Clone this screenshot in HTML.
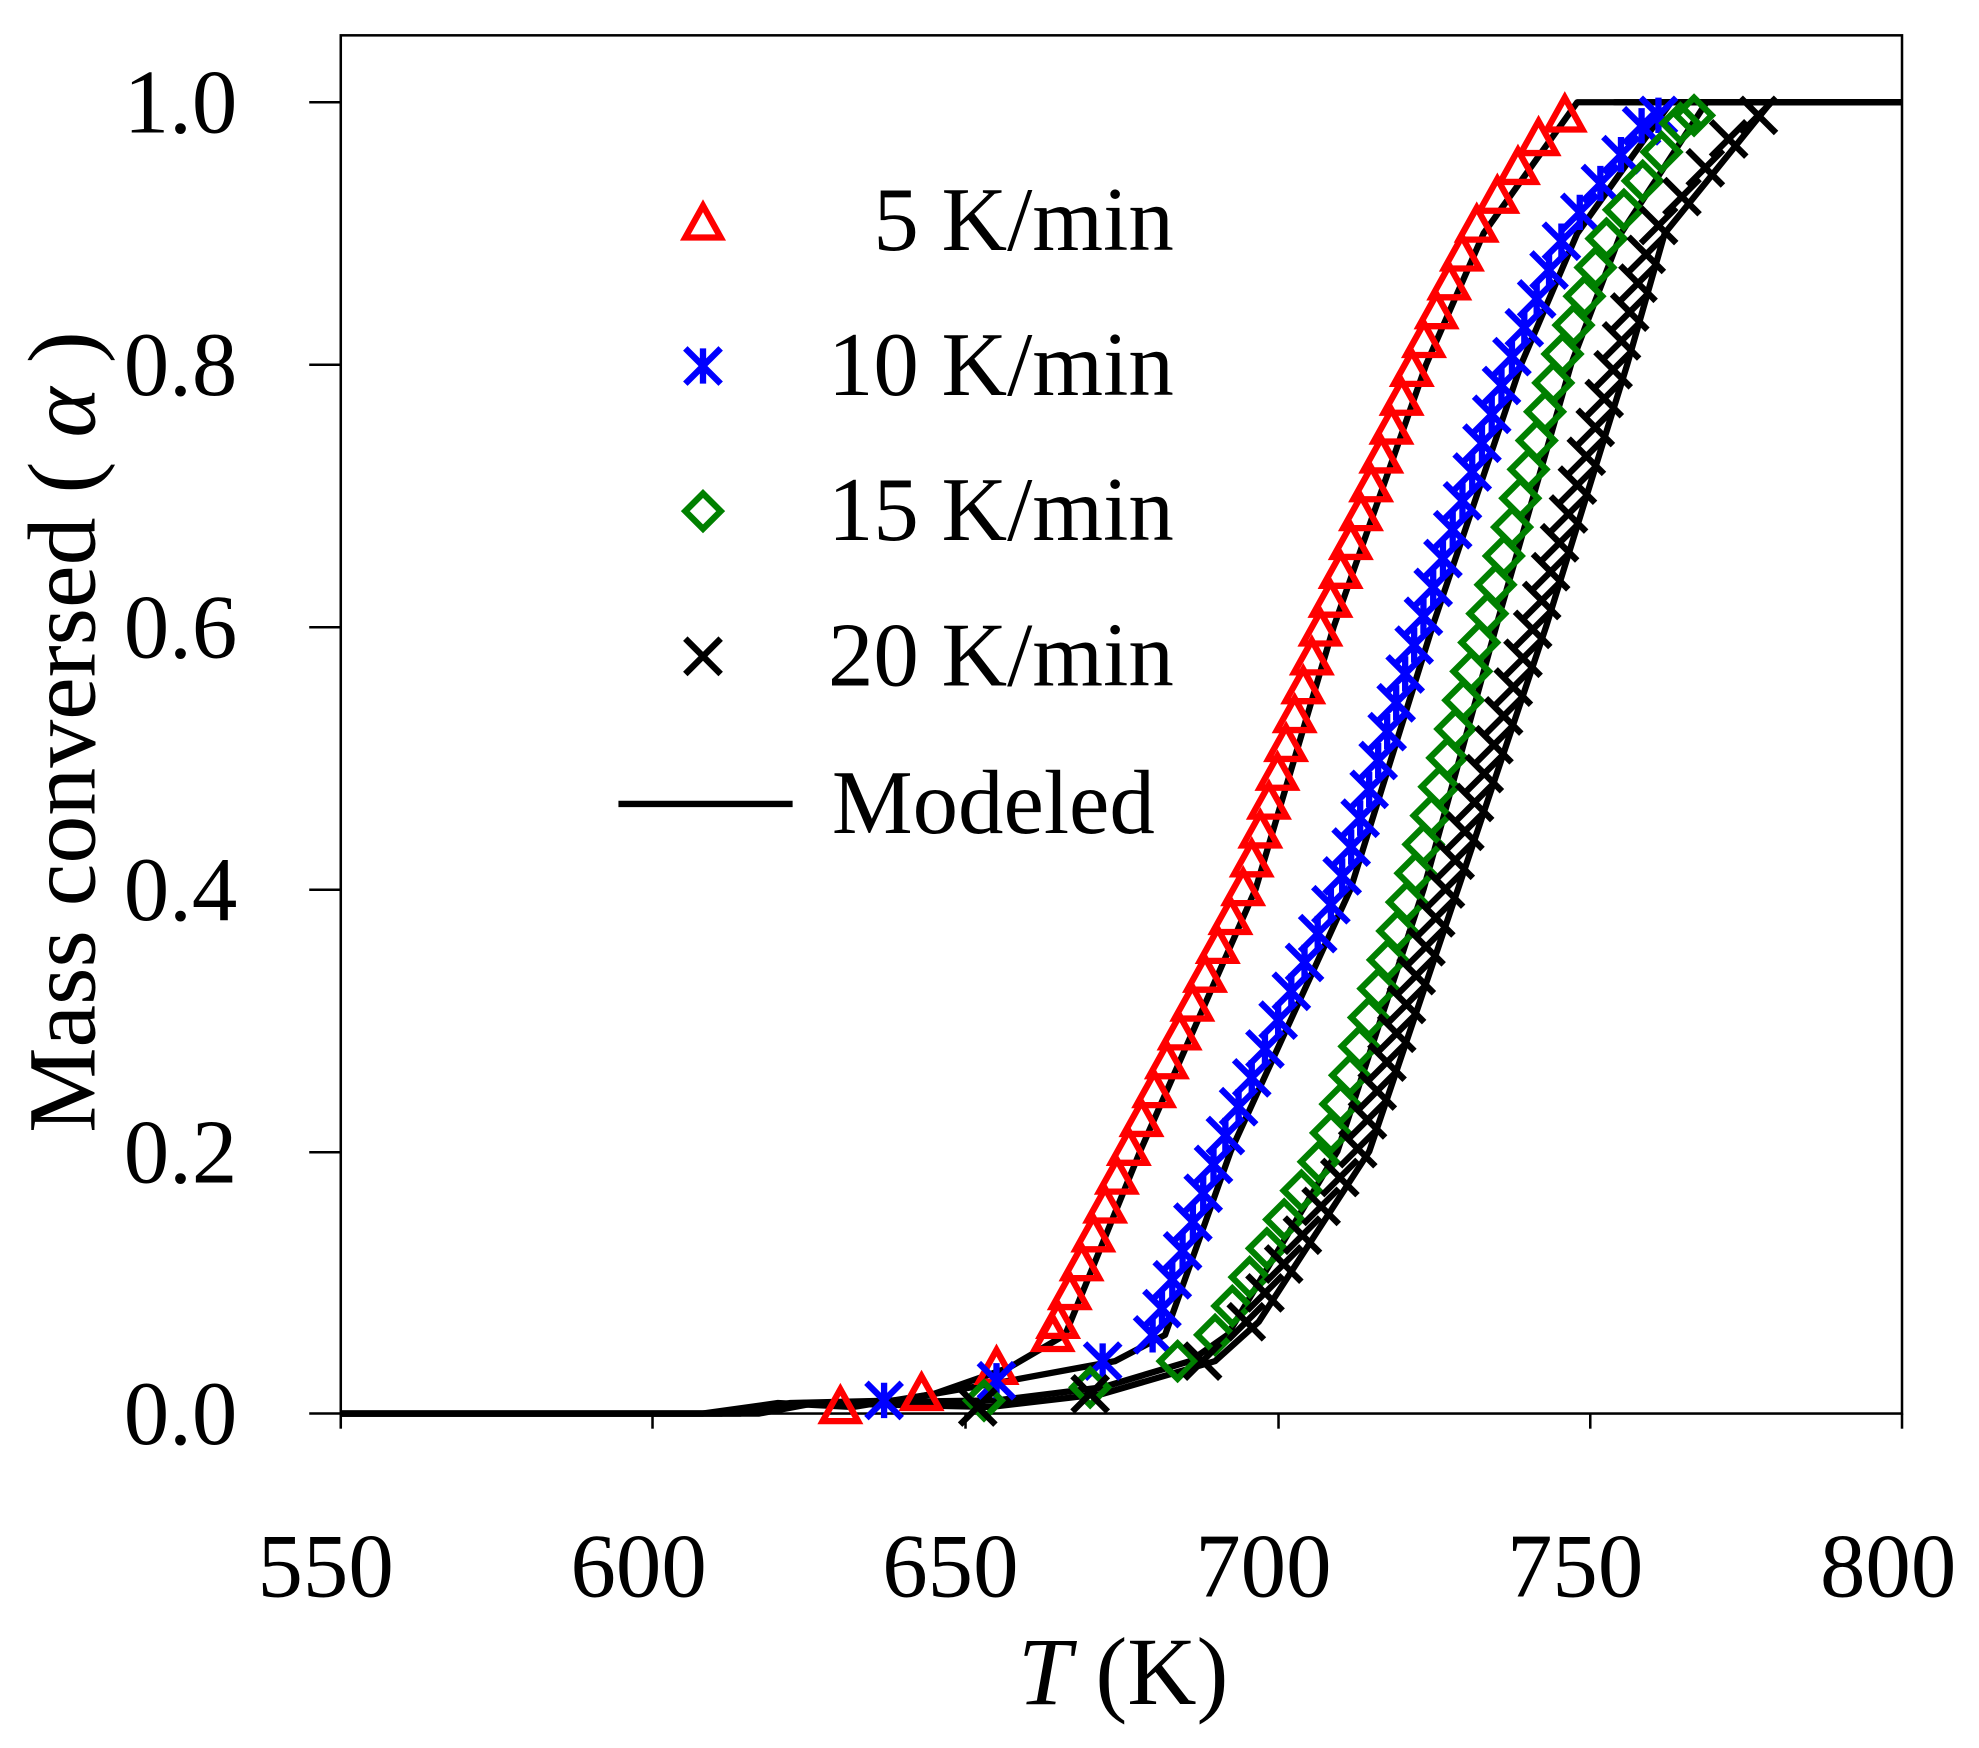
<!DOCTYPE html>
<html><head><meta charset="utf-8"><style>
html,body{margin:0;padding:0;background:#fff}
svg{display:block}
text{font-family:"Liberation Serif",serif;fill:#000}
</style></head><body>
<svg id="s" width="1979" height="1748" viewBox="0 0 1568 1385" preserveAspectRatio="none">
<rect x="270" y="28" width="1237" height="1092" fill="none" stroke="#000" stroke-width="2"/>
<g stroke="#000" stroke-width="2">
<line x1="245" y1="81" x2="270" y2="81"/><line x1="245" y1="289" x2="270" y2="289"/>
<line x1="245" y1="497" x2="270" y2="497"/><line x1="245" y1="705" x2="270" y2="705"/>
<line x1="245" y1="913" x2="270" y2="913"/><line x1="245" y1="1120" x2="270" y2="1120"/>
<line x1="270" y1="1120" x2="270" y2="1132"/><line x1="517" y1="1120" x2="517" y2="1132"/>
<line x1="765" y1="1120" x2="765" y2="1132"/><line x1="1013" y1="1120" x2="1013" y2="1132"/>
<line x1="1260" y1="1120" x2="1260" y2="1132"/><line x1="1507" y1="1120" x2="1507" y2="1132"/>
</g>
<g font-size="72" text-anchor="end">
<text x="188" y="105">1.0</text><text x="188" y="313">0.8</text><text x="188" y="521">0.6</text>
<text x="188" y="729">0.4</text><text x="188" y="937">0.2</text><text x="188" y="1144">0.0</text>
</g>
<g font-size="72" text-anchor="middle">
<text x="258" y="1265">550</text><text x="506" y="1265">600</text><text x="753" y="1265">650</text>
<text x="1001" y="1265">700</text><text x="1248" y="1265">750</text><text x="1496" y="1265">800</text>
</g>
<text x="890" y="1350" font-size="76" text-anchor="middle"><tspan font-style="italic">T</tspan>  (K)</text>
<text transform="translate(75,580) rotate(-90)" font-size="76" text-anchor="middle">Mass conversed ( <tspan font-style="italic">α</tspan> )</text>
<g id="data"></g>
<g font-size="72" text-anchor="end">
<text x="930" y="198">5 K/min</text><text x="930" y="313">10 K/min</text>
<text x="930" y="428">15 K/min</text><text x="930" y="543">20 K/min</text>
<text x="915" y="660">Modeled</text>
</g>
<line x1="490" y1="637" x2="628" y2="637" stroke="#000" stroke-width="5"/>
<g id="leg"></g>
</svg>
<script>
const X=T=>270+(T-550)*4.948, Y=a=>1120-a*1039;
const S=[
 {c:'red',m:'tri',k:[[630,0.005],[643,0.015],[655,0.035],[664,0.06],[676,0.2],[694.5,0.4],[707,0.6],[721.8,0.8],[731,0.9],[746,1.0]],lo:[[630,0.005],[643,0.015],[655,0.035],[664,0.06]],st:0.07},
 {c:'blue',m:'ast',k:[[637,0.01],[655,0.025],[672,0.04],[680,0.06],[690.5,0.2],[709.7,0.4],[722.8,0.6],[737,0.8],[746,0.9],[761,1.0]],lo:[[637,0.01],[655,0.025],[672,0.04],[680,0.06]],st:0.08},
 {c:'green',m:'dia',k:[[653,0.01],[670,0.02],[684,0.04],[690,0.06],[707.6,0.2],[721.4,0.4],[733,0.6],[745,0.8],[753,0.9],[766.7,1.0]],lo:[[653,0.01],[670,0.02],[684,0.04]],st:0.06},
 {c:'black',m:'x',k:[[652,0.005],[670,0.015],[688,0.04],[695,0.07],[712.7,0.2],[726.9,0.4],[741,0.6],[754,0.8],[760,0.9],[777,1.0]],lo:[[652,0.005],[670,0.015],[688,0.04]],st:0.07}
];
function interpT(k,a){for(let i=1;i<k.length;i++){if(a<=k[i][1]){const p=k[i-1],q=k[i];return p[0]+(q[0]-p[0])*(a-p[1])/(q[1]-p[1]);}}return k[k.length-1][0];}
function mk(m,x,y,c){const r=14;
 if(m=='tri')return `<polygon points="${x},${y-r} ${x-r},${y+r*0.8} ${x+r},${y+r*0.8}" fill="none" stroke="${c}" stroke-width="5"/>`;
 if(m=='dia')return `<polygon points="${x},${y-r} ${x+r},${y} ${x},${y+r} ${x-r},${y}" fill="none" stroke="${c}" stroke-width="5"/>`;
 if(m=='x')return `<path d="M${x-r} ${y-r}L${x+r} ${y+r}M${x-r} ${y+r}L${x+r} ${y-r}" stroke="${c}" stroke-width="5"/>`;
 return `<path d="M${x-r} ${y-r}L${x+r} ${y+r}M${x-r} ${y+r}L${x+r} ${y-r}M${x} ${y-r}L${x} ${y+r}" stroke="${c}" stroke-width="5"/>`;}
let h='';
S.forEach((s,i)=>{let pts=[[550,0],[608+i*3,0],[620+i*2,0.008]].concat(s.k.map(p=>[p[0]+2,p[1]]));pts.push([750+i*4,1],[800,1]);
 h+=`<polyline points="${pts.map(p=>X(p[0])+','+Y(p[1])).join(' ')}" fill="none" stroke="#000" stroke-width="5" stroke-linejoin="round"/>`;});
S.forEach(s=>{s.lo.forEach(p=>h+=mk(s.m,X(p[0]),Y(p[1]),s.c));
 for(let a=s.st;a<=0.99;a+=0.022)h+=mk(s.m,X(interpT(s.k,a)),Y(a),s.c);
 h+=mk(s.m,X(s.k[s.k.length-1][0]),Y(0.99),s.c);});
document.getElementById('data').innerHTML=h;
document.getElementById('leg').innerHTML=mk('tri',557,177,'red')+mk('ast',557,290,'blue')+mk('dia',557,405,'green')+mk('x',557,520,'black');
</script>
</body></html>
